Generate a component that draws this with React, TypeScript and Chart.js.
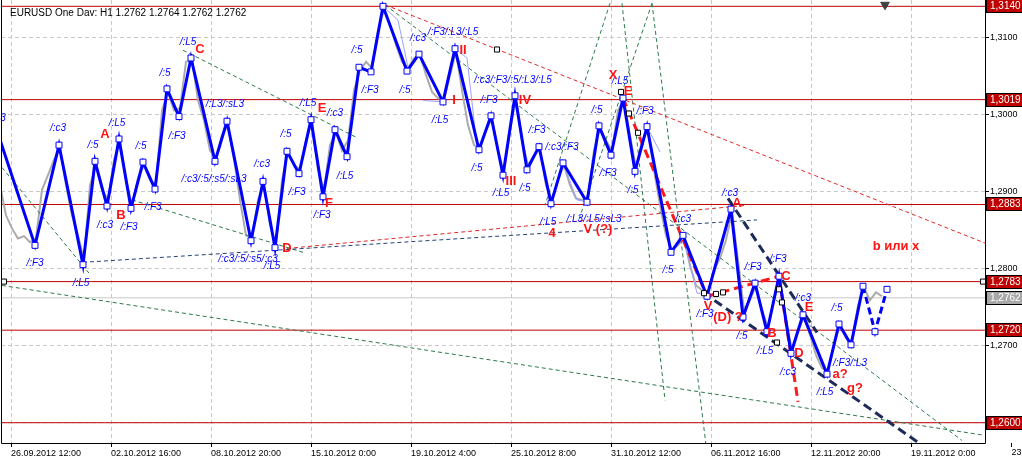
import React, { useEffect, useRef } from "react";
import { Chart, registerables } from "chart.js";

Chart.register(...registerables);

// ---------- data ----------
const titleText = "EURUSD One Dav: H1 1.2762 1.2764 1.2762 1.2762";

const xTickBars = [11, 111, 211, 311, 411, 511, 611, 711, 811, 911, 1011];
const xTickLabels = [
  "26.09.2012 12:00",
  "02.10.2012 16:00",
  "08.10.2012 20:00",
  "15.10.2012 0:00",
  "19.10.2012 4:00",
  "25.10.2012 8:00",
  "31.10.2012 12:00",
  "06.11.2012 16:00",
  "12.11.2012 20:00",
  "19.11.2012 0:00",
  "23",
];
const yTickValues = [1.26, 1.27, 1.28, 1.29, 1.3, 1.31];
const yTickLabels = ["1,2600", "1,2700", "1,2800", "1,2900", "1,3000", "1,3100"];

const Y_MAX = 1.31482;
const Y_MIN = 1.25737;
const X_MIN = 1;
const X_MAX = 985;

// close prices (H1), sampled every 6 bars
const grayStart = 0;
const grayStep = 6;
const grayPrices = [
  1.2908, 1.2869, 1.2852, 1.2839, 1.2842, 1.2834, 1.2839, 1.2902, 1.2921, 1.2941,
  1.2956, 1.2908, 1.2869, 1.2843, 1.2811, 1.2908, 1.2934, 1.2902, 1.2889, 1.2941,
  1.2964, 1.2915, 1.2882, 1.2917, 1.2934, 1.2915, 1.2908, 1.3005, 1.3029, 1.3005,
  1.3008, 1.3068, 1.307, 1.3018, 1.2992, 1.2953, 1.2943, 1.2973, 1.2986, 1.2941,
  1.2889, 1.2843, 1.2839, 1.2889, 1.2908, 1.2856, 1.283, 1.2915, 1.2951, 1.2934,
  1.2928, 1.2966, 1.299, 1.2928, 1.2902, 1.296, 1.2977, 1.2953, 1.2966, 1.3031,
  1.3057, 1.3068, 1.306, 1.3109, 1.3135, 1.3116, 1.309, 1.3068, 1.306, 1.3073,
  1.3077, 1.3051, 1.3029, 1.3021, 1.3018, 1.3051, 1.3081, 1.3031, 1.2986, 1.296,
  1.2956, 1.2979, 1.2995, 1.2953, 1.2925, 1.2979, 1.3021, 1.2966, 1.2934, 1.2947,
  1.2956, 1.2908, 1.2889, 1.2915, 1.2934, 1.2908, 1.2891, 1.2889, 1.2891, 1.2953,
  1.2982, 1.2966, 1.2953, 1.3005, 1.3018, 1.2973, 1.293, 1.2966, 1.2979, 1.2928,
  1.2882, 1.2843, 1.2824, 1.283, 1.2839, 1.2804, 1.2778, 1.2772, 1.2769, 1.2798,
  1.2813, 1.2837, 1.2873, 1.2811, 1.2746, 1.2759, 1.2778, 1.2746, 1.2723, 1.2759,
  1.2787, 1.2733, 1.2694, 1.272, 1.2736, 1.2714, 1.2688, 1.2671, 1.2666, 1.2701,
  1.2727, 1.271, 1.2704, 1.2752, 1.2775, 1.2759, 1.2769, 1.2764,
];

// wave zigzag
const zigzagBars = [
  0, 35, 59, 83, 95, 107, 119, 131, 143, 155, 167, 179, 191, 215, 227, 251, 263, 275, 287, 299,
  311, 323, 335, 347, 359, 371, 383, 407, 419, 443, 455, 479, 491, 503, 515, 527, 539, 551, 563, 587,
  599, 611, 623, 635, 647, 671, 683, 707, 731, 743, 755, 767, 779, 791, 803, 827, 839, 851, 863, 875,
  887,
];
const zigzagPrices = [
  1.2967, 1.283, 1.296, 1.2805, 1.2939, 1.2881, 1.2968, 1.2878, 1.2938, 1.2903,
  1.3033, 1.2997, 1.3073, 1.2939, 1.2991, 1.2836, 1.2913, 1.2827, 1.2952, 1.2923,
  1.2993, 1.2893, 1.298, 1.2945, 1.3061, 1.3055, 1.314, 1.3056, 1.3078, 1.3016,
  1.3085, 1.2954, 1.2998, 1.2921, 1.3024, 1.2928, 1.2958, 1.2884, 1.2937, 1.2886,
  1.2985, 1.2947, 1.3021, 1.2926, 1.2984, 1.2821, 1.2843, 1.2764, 1.2877, 1.2737,
  1.2781, 1.2718, 1.279, 1.269, 1.274, 1.2663, 1.2728, 1.2701, 1.2777, 1.2718,
  1.2773,
];
const zigzagDashedFrom = 58;

// lower-degree (thin, light) zigzag pieces: [bar1, price1, bar2, price2]
const minorZigzag = [
  [383, 1.314, 398, 1.3122],
  [398, 1.3122, 408, 1.3061],
  [423, 1.3018, 443, 1.3016],
  [455, 1.3085, 467, 1.3073],
  [467, 1.3073, 477, 1.2958],
  [563, 1.2937, 577, 1.2889],
  [577, 1.2889, 587, 1.2886],
  [647, 1.2984, 660, 1.2951],
  [683, 1.2843, 697, 1.2768],
  [697, 1.2768, 707, 1.2768],
];

// horizontal levels
const levelPrices = [1.314, 1.3019, 1.2883, 1.2783, 1.272, 1.26];
const levelLabels = ["1,3140", "1,3019", "1,2883", "1,2783", "1,2720", "1,2600"];
const lastPrice = 1.2762;
const lastPriceLabel = "1,2762";

// trend lines: [bar1, price1, bar2, price2]
const greenLines = [
  [2, 1.2931, 89, 1.2794],
  [2, 1.2778, 983, 1.2584],
  [183, 1.3083, 358, 1.2969],
  [132, 1.2889, 303, 1.2821],
  [385, 1.3142, 962, 1.2577],
  [610, 1.3144, 545, 1.2882],
  [622, 1.3144, 665, 1.2629],
  [652, 1.3144, 706, 1.2571],
  [652, 1.3144, 578, 1.286],
];
const redThinLines = [
  [385, 1.3142, 985, 1.2833],
  [287, 1.2826, 747, 1.2882],
];
const redThickLines = [
  [623, 1.3021, 707, 1.2764],
  [707, 1.2764, 779, 1.279],
  [779, 1.279, 798, 1.2627],
];
const navyThinLines = [[83, 1.2808, 757, 1.2863]];
const navyThickLines = [
  [728, 1.2891, 817, 1.2717],
  [703, 1.2769, 922, 1.2571],
];

// small black anchor squares
const anchorBars = [4, 983, 497, 621, 629, 638, 704, 716, 723, 779, 782, 777];
const anchorPrices = [1.2783, 1.2783, 1.3084, 1.3029, 1.3001, 1.2976, 1.2768, 1.2767, 1.2769, 1.2773, 1.2756, 1.2704];

const arrowBar = 885;
const arrowPrice = 1.3142;

// text labels: [text, bar, price]
const blueLabels: [string, number, number][] = [
  ["3", 3, 1.2995],
  ["/:c3", 58, 1.2982],
  ["/:L5", 117, 1.2988],
  ["/:5", 93, 1.296],
  ["/:5", 141, 1.2959],
  ["/:F3", 35, 1.2807],
  ["/:L5", 81, 1.2781],
  ["/:c3", 105, 1.2856],
  ["/:F3", 129, 1.2854],
  ["/:F3", 153, 1.288],
  ["/:5", 165, 1.3053],
  ["/:L5", 188, 1.3094],
  ["/:F3", 177, 1.2972],
  ["/:L3/:sL3", 225, 1.3013],
  ["/:c3/:5/:s5/:sL3", 214, 1.2916],
  ["/:c3", 262, 1.2935],
  ["/:c3/:5/:s5/:c3", 248, 1.2812],
  ["/:L5", 272, 1.2803],
  ["/:5", 286, 1.2974],
  ["/:F3", 297, 1.2899],
  ["/:F3", 322, 1.2869],
  ["/:L5", 308, 1.3014],
  ["/:c3", 335, 1.3001],
  ["/:L5", 345, 1.292],
  ["/:5", 357, 1.3083],
  ["/:F3", 370, 1.3031],
  ["/:c3", 418, 1.3099],
  ["/:F3/:L3/:L5", 453, 1.3107],
  ["/:5", 405, 1.3031],
  ["/:L5", 440, 1.2992],
  ["/:c3/:F3/:5/:L3/:L5", 513, 1.3044],
  ["/:F3", 489, 1.3018],
  ["/:5", 477, 1.293],
  ["/:L5", 501, 1.2898],
  ["/:F3", 537, 1.2979],
  ["/:c3/:F3", 562, 1.2957],
  ["/:5", 525, 1.2904],
  ["/:5", 597, 1.3005],
  ["/:F3", 608, 1.2924],
  ["/:5", 633, 1.2902],
  ["/:L5", 620, 1.3043],
  ["/:F3", 645, 1.3004],
  ["/:L5", 548, 1.286],
  ["/:L3/:L5/:sL3", 594, 1.2864],
  ["/:c3", 683, 1.2864],
  ["/:5", 668, 1.2798],
  ["/:c3", 730, 1.2898],
  ["/:F3", 705, 1.2741],
  ["/:F3", 753, 1.2802],
  ["/:F3", 778, 1.2812],
  ["/:c3", 803, 1.2762],
  ["/:5", 742, 1.2712],
  ["/:L5", 765, 1.2693],
  ["/:c3", 788, 1.2666],
  ["/:5", 837, 1.2749],
  ["/:F3/:L3", 850, 1.2677],
  ["/:L5", 825, 1.264],
];
const redLabels: [string, number, number][] = [
  ["A", 105, 1.2974],
  ["B", 121, 1.2869],
  ["C", 200, 1.3084],
  ["D", 287, 1.2826],
  ["E", 322, 1.3007],
  ["F", 329, 1.2885],
  ["I", 454, 1.3018],
  ["II", 463, 1.3083],
  ["III", 511, 1.2913],
  ["IV", 525, 1.3018],
  ["X", 613, 1.3051],
  ["E", 628, 1.303],
  ["4", 552, 1.2846],
  ["V (?)", 598, 1.2851],
  ["A", 737, 1.2885],
  ["C", 786, 1.279],
  ["V", 708, 1.2751],
  ["(D) ?", 728, 1.2737],
  ["B", 772, 1.2716],
  ["D", 799, 1.269],
  ["E", 809, 1.275],
  ["a?", 840, 1.2662],
  ["g?", 855, 1.2645],
  ["b или x", 896, 1.2828],
];

// ---------- helpers ----------
const FONT = '"Liberation Sans", Arial, sans-serif';

function segmentSets(lines: number[][], color: string, width: number, dash: number[], order: number) {
  return lines.map(([b1, p1, b2, p2]) => ({
    data: [
      { x: b1, y: p1 },
      { x: b2, y: p2 },
    ],
    borderColor: color,
    borderWidth: width,
    borderDash: dash,
    borderCapStyle: "butt",
    pointRadius: 0,
    fill: false,
    tension: 0,
    order,
  }));
}

const zeroPad = (s: any) => {
  s.paddingLeft = 0;
  s.paddingRight = 0;
  s.paddingTop = 0;
  s.paddingBottom = 0;
};

const overlayPlugin = {
  id: "overlay",
  afterDatasetsDraw(chart: any) {
    const { ctx } = chart;
    const xs = chart.scales.x;
    const ys = chart.scales.y;
    ctx.save();
    ctx.textAlign = "center";
    ctx.textBaseline = "middle";
    ctx.font = "italic 10px " + FONT;
    ctx.fillStyle = "#0000ff";
    for (const [t, b, p] of blueLabels) ctx.fillText(t, xs.getPixelForValue(b), ys.getPixelForValue(p));
    ctx.font = "bold 13px " + FONT;
    ctx.fillStyle = "#ff1414";
    for (const [t, b, p] of redLabels) ctx.fillText(t, xs.getPixelForValue(b), ys.getPixelForValue(p));
    ctx.restore();
  },
  afterDraw(chart: any) {
    const { ctx, chartArea: a } = chart;
    const xs = chart.scales.x;
    const ys = chart.scales.y;
    ctx.save();
    // frame
    ctx.strokeStyle = "#000";
    ctx.lineWidth = 1;
    ctx.setLineDash([]);
    ctx.beginPath();
    ctx.moveTo(a.left + 0.5, a.top);
    ctx.lineTo(a.left + 0.5, a.bottom + 0.5);
    ctx.lineTo(a.right + 0.5, a.bottom + 0.5);
    ctx.lineTo(a.right + 0.5, a.top);
    ctx.stroke();

    // price boxes on the right axis
    ctx.font = "10px " + FONT;
    ctx.textAlign = "left";
    ctx.textBaseline = "middle";
    const box = (p: number, label: string, fill: string) => {
      const y = Math.round(ys.getPixelForValue(p));
      ctx.fillStyle = fill;
      ctx.fillRect(a.right + 1, y - 6, 40, 13);
      ctx.strokeStyle = "#000";
      ctx.strokeRect(a.right + 1.5, y - 6.5, 40, 13);
      ctx.fillStyle = "#ffffff";
      ctx.fillText(label, a.right + 5, y + 0.5);
    };
    levelPrices.forEach((p, i) => box(p, levelLabels[i], "#c00000"));
    box(lastPrice, lastPriceLabel, "#a8a8a8");

    // x tick labels beyond the plot
    ctx.fillStyle = "#000";
    ctx.strokeStyle = "#000";
    ctx.textAlign = "left";
    ctx.textBaseline = "top";
    ctx.font = "9px " + FONT;
    xTickBars.forEach((b, i) => {
      if (b <= X_MAX) return;
      const x = Math.round(xs.getPixelForValue(b)) + 0.5;
      ctx.beginPath();
      ctx.moveTo(x, a.bottom);
      ctx.lineTo(x, a.bottom + 4);
      ctx.stroke();
      ctx.fillText(xTickLabels[i], x, a.bottom + 5);
    });

    // title
    ctx.font = "10px " + FONT;
    ctx.textAlign = "left";
    ctx.textBaseline = "middle";
    ctx.fillStyle = "#000";
    ctx.fillText(titleText, 10, 13);
    ctx.restore();
  },
};

export default function App() {
  const ref = useRef<HTMLCanvasElement>(null);

  useEffect(() => {
    document.body.style.margin = "0";
    const canvas = ref.current;
    if (!canvas) return;

    const grayData = grayPrices.map((p, i) => ({ x: grayStart + i * grayStep, y: p }));
    const zigData = zigzagBars.map((b, i) => ({ x: b, y: zigzagPrices[i] }));

    const datasets: any[] = [
      {
        data: anchorBars.map((b, i) => ({ x: b, y: anchorPrices[i] })),
        showLine: false,
        pointStyle: "rect",
        pointRadius: 3.6,
        pointBackgroundColor: "#ffffff",
        pointBorderColor: "#000000",
        pointBorderWidth: 1,
        order: 0,
      },
      {
        data: [{ x: arrowBar, y: arrowPrice }],
        showLine: false,
        pointStyle: "triangle",
        rotation: 180,
        pointRadius: 5,
        pointBackgroundColor: "#404040",
        pointBorderColor: "#404040",
        order: 0,
      },
      {
        data: zigData,
        borderColor: "#0000ff",
        borderWidth: 3,
        tension: 0,
        fill: false,
        pointStyle: "rect",
        pointRadius: zigData.map((_, i) => (i === 0 ? 0 : 4.2)),
        pointBackgroundColor: "#ffffff",
        pointBorderColor: "#0000ff",
        pointBorderWidth: 1,
        segment: {
          borderDash: (c: any) => (c.p0DataIndex >= zigzagDashedFrom ? [7, 4] : undefined),
        },
        order: 1,
      },
      ...segmentSets(redThickLines, "#ff1a1a", 3, [9, 5], 2),
      ...segmentSets(navyThickLines, "#1c2b5a", 3, [9, 5], 2),
      ...segmentSets(minorZigzag, "#9aa2ff", 1, [], 3),
      ...segmentSets(navyThinLines, "#24407a", 1, [4, 3], 3),
      ...segmentSets(redThinLines, "#e02828", 1, [4, 3], 3),
      ...segmentSets(greenLines, "#2c7a4a", 1, [4, 3], 3),
      {
        data: grayData,
        borderColor: "#ababab",
        borderWidth: 2,
        pointRadius: 0,
        tension: 0,
        fill: false,
        order: 5,
      },
      ...levelPrices.map((p) => ({
        data: [
          { x: X_MIN, y: p },
          { x: X_MAX, y: p },
        ],
        borderColor: "#c00000",
        borderWidth: 1,
        pointRadius: 0,
        order: 6,
      })),
      {
        data: [
          { x: X_MIN, y: lastPrice },
          { x: X_MAX, y: lastPrice },
        ],
        borderColor: "#c8c8c8",
        borderWidth: 1,
        pointRadius: 0,
        order: 6,
      },
    ];

    const chart = new Chart(canvas, {
      type: "line",
      data: { datasets },
      options: {
        responsive: false,
        animation: false,
        devicePixelRatio: 1,
        events: [],
        layout: { autoPadding: false, padding: { left: 1, top: 0, right: 0, bottom: 0 } },
        plugins: { legend: { display: false }, tooltip: { enabled: false } },
        scales: {
          x: {
            type: "linear",
            min: X_MIN,
            max: X_MAX,
            afterBuildTicks: (s: any) => {
              s.ticks = xTickBars.filter((v) => v <= X_MAX).map((v) => ({ value: v }));
            },
            afterFit: (s: any) => {
              s.height = 14;
              zeroPad(s);
            },
            ticks: {
              autoSkip: false,
              maxRotation: 0,
              minRotation: 0,
              align: "start",
              padding: 1,
              color: "#000",
              font: { family: FONT, size: 9 },
              callback: (_v: any, i: number) => xTickLabels[i],
            },
            grid: {
              color: "#c8c8c8",
              lineWidth: 1,
              drawTicks: true,
              tickLength: 4,
              tickColor: "#000",
              tickBorderDash: [],
            },
            border: { display: false, dash: [4, 3] },
          },
          y: {
            type: "linear",
            position: "right",
            min: Y_MIN,
            max: Y_MAX,
            afterBuildTicks: (s: any) => {
              s.ticks = yTickValues.map((v) => ({ value: v }));
            },
            afterFit: (s: any) => {
              s.width = 37;
              zeroPad(s);
            },
            ticks: {
              padding: 1,
              color: "#000",
              font: { family: FONT, size: 9 },
              callback: (_v: any, i: number) => yTickLabels[i],
            },
            grid: {
              color: "#c8c8c8",
              lineWidth: 1,
              drawTicks: true,
              tickLength: 4,
              tickColor: "#000",
              tickBorderDash: [],
            },
            border: { display: false, dash: [4, 3] },
          },
        },
      } as any,
      plugins: [overlayPlugin],
    });

    return () => chart.destroy();
  }, []);

  return (
    <canvas
      ref={ref}
      width={1022}
      height={457}
      style={{ display: "block", width: "1022px", height: "457px" }}
    />
  );
}
